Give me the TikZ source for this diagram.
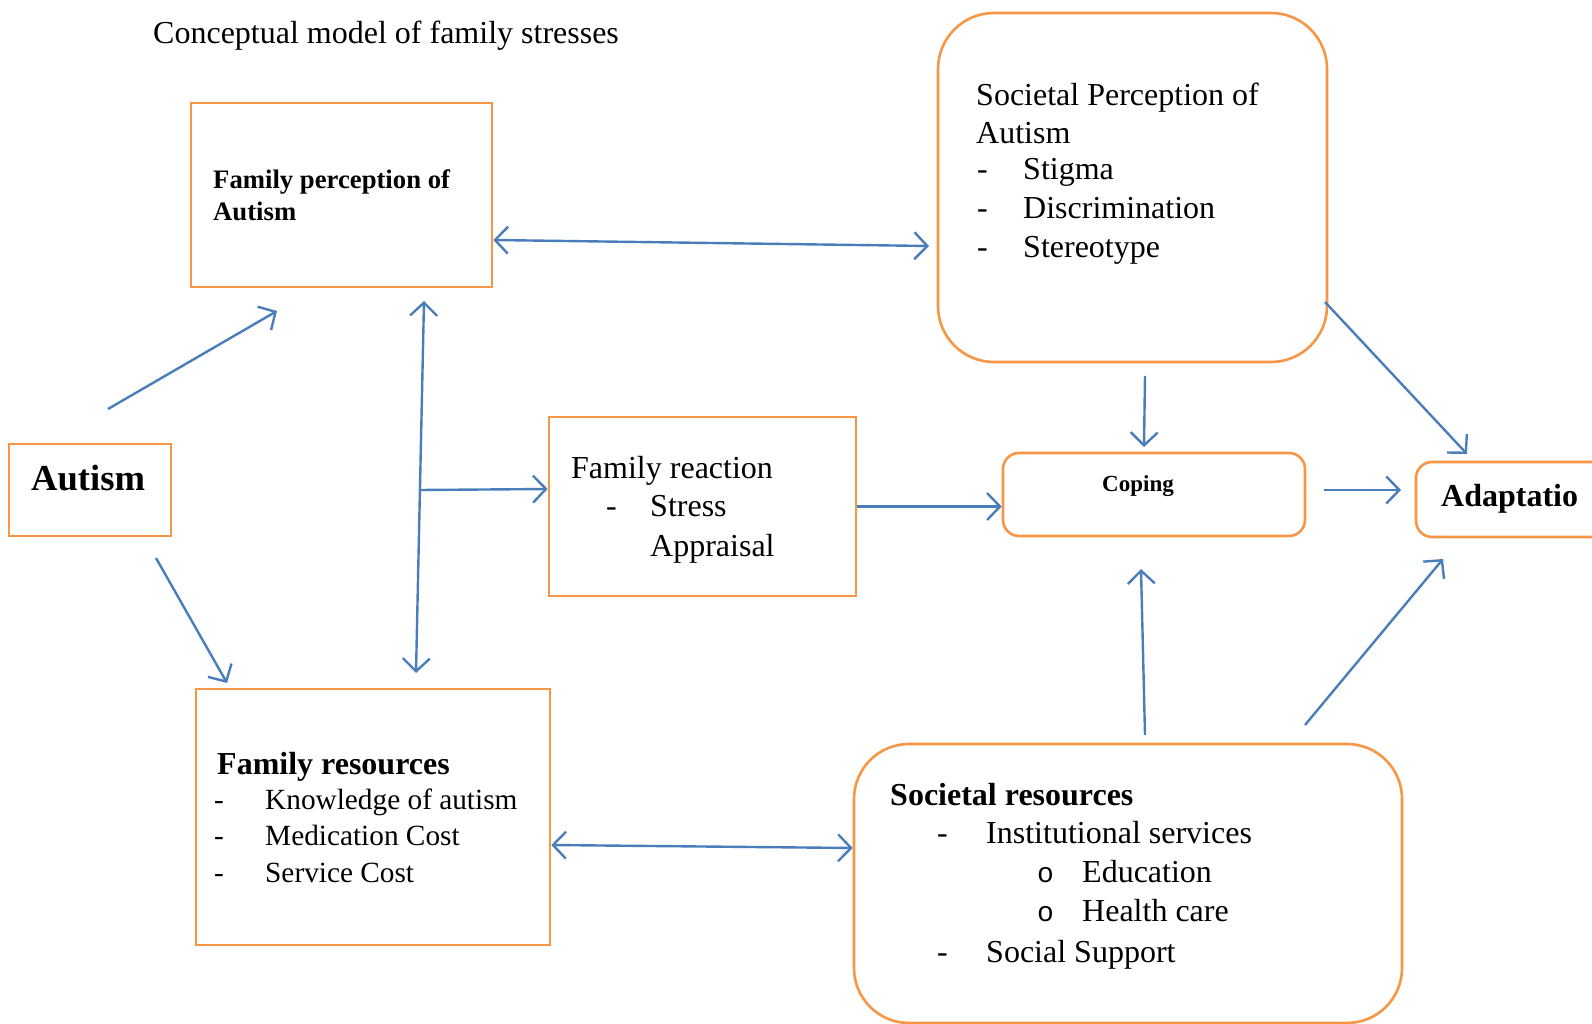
\documentclass[tikz,border=0pt]{standalone}
\usepackage{fontspec}
\setmainfont{Liberation Serif}
\newfontfamily\monofnt{Liberation Mono}
\usetikzlibrary{arrows.meta,calc}
\definecolor{boxorange}{HTML}{F79646}
\definecolor{arrowblue}{HTML}{4A7EBB}
\tikzset{
  box/.style={draw=boxorange,line width=2.6pt,rectangle,inner sep=0pt},
  rbox/.style={box,rounded corners=#1},
  txt/.style={anchor=base west,inner sep=0pt,font=\fontsize{32}{38}\selectfont},
  stxt/.style={anchor=base west,inner sep=0pt,font=\fontsize{29.3}{36}\selectfont},
  btxt/.style={txt,font=\fontsize{32}{38}\selectfont\bfseries},
  bul/.style={txt,font=\fontsize{28}{34}\selectfont\monofnt},
  tipb/.tip={Straight Barb[length=13pt,width=27pt,line width=2.4pt]},
  conn/.style={draw=arrowblue,line width=2.4pt,-tipb},
  biconn/.style={draw=arrowblue,line width=2.4pt,tipb-tipb}
}
\begin{document}
\begin{tikzpicture}[x=1pt,y=-1pt]
\useasboundingbox (0,0) rectangle (1592,1024);
\fill[white] (0,0) rectangle (1592,1024);

% boxes
\node[box,minimum width=301pt,minimum height=184pt] (famperc) at (341.5,195) {};
\node[rbox=56pt,minimum width=389pt,minimum height=349pt] (socperc) at (1132.5,187.5) {};
\node[box,minimum width=162pt,minimum height=92pt] (autism) at (90,490) {};
\node[box,minimum width=307pt,minimum height=179pt] (famreact) at (702.5,506.5) {};
\node[rbox=16pt,minimum width=302pt,minimum height=83pt] (coping) at (1154,494.5) {};
\node[rbox=16pt,minimum width=204pt,minimum height=75pt] (adapt) at (1518,499.5) {};
\node[box,minimum width=354pt,minimum height=256pt] (famres) at (373,817) {};
\node[rbox=55pt,minimum width=548pt,minimum height=279pt] (socres) at (1128,883.5) {};

% texts
\node[txt] (title) at (153,44) {Conceptual model of family stresses};

\node[txt,font=\fontsize{26.7}{32}\selectfont\bfseries] (fp1) at (213,189) {Family perception of};
\node[txt,font=\fontsize{26.7}{32}\selectfont\bfseries] (fp2) at (213,221) {Autism};

\node[txt,font=\fontsize{36.6}{44}\selectfont\bfseries] (aut) at (31,490) {Autism};

\node[txt] (fr1) at (571,478) {Family reaction};
\node[txt] (fr2d) at (606,516) {-};
\node[txt] (fr2) at (650,516) {Stress};
\node[txt] (fr3) at (650,556) {Appraisal};

\node[txt] (sp1) at (976,106) {Societal Perception of};
\node[txt] (sp2) at (976,144) {Autism};
\node[txt] (sp3d) at (977,180) {-};
\node[txt] (sp3) at (1023,180) {Stigma};
\node[txt] (sp4d) at (977,219) {-};
\node[txt] (sp4) at (1023,219) {Discrimination};
\node[txt] (sp5d) at (977,258) {-};
\node[txt] (sp5) at (1023,258) {Stereotype};

\node[txt,font=\fontsize{23}{28}\selectfont\bfseries] (cop) at (1102,491) {Coping};

\node[btxt] (ad) at (1441,506) {Adaptatio};

\node[btxt] (fs1) at (217,774) {Family resources};
\node[stxt] (fs2d) at (214,809) {-};
\node[stxt] (fs2) at (265,809) {Knowledge of autism};
\node[stxt] (fs3d) at (214,845) {-};
\node[stxt] (fs3) at (265,845) {Medication Cost};
\node[stxt] (fs4d) at (214,882) {-};
\node[stxt] (fs4) at (265,882) {Service Cost};

\node[btxt] (sr1) at (890,805) {Societal resources};
\node[txt] (sr2d) at (937,843) {-};
\node[txt] (sr2) at (986,843) {Institutional services};
\node[bul] (sr3b) at (1037,882) {o};
\node[txt] (sr3) at (1082,882) {Education};
\node[bul] (sr4b) at (1037,921) {o};
\node[txt] (sr4) at (1082,921) {Health care};
\node[txt] (sr5d) at (937,962) {-};
\node[txt] (sr5) at (986,962) {Social Support};

% connector end points
\coordinate (a1s) at (108,409);
\coordinate (a1e) at (277,311);
\coordinate (a2s) at (156,558);
\coordinate (a2e) at (227,683);
\coordinate (a3s) at (424,301);
\coordinate (a3e) at (416,673);
\coordinate (a4s) at (420,490);
\coordinate (a5e) at (929,246);
\coordinate (a7s) at (1145,376);
\coordinate (a7e) at (1144,447);
\coordinate (a8s) at (1325,302);
\coordinate (a8e) at (1467,454);
\coordinate (a9s) at (1324,490);
\coordinate (a9e) at (1401,490);
\coordinate (a10s) at (1145,735);
\coordinate (a10e) at (1141,569);
\coordinate (a11s) at (1305,725);
\coordinate (a11e) at (1443,559);

% connectors
\draw[conn] (a1s) -- (a1e);
\draw[conn] (a2s) -- (a2e);
\draw[biconn] (a3s) -- (a3e);
\draw[conn] (a4s) -- ([yshift=17.5pt]famreact.west);
\draw[biconn] ([yshift=-45pt]famperc.east) -- (a5e);
\draw[conn] (famreact.east) -- (coping.west |- famreact.east);
\draw[conn] (a7s) -- (a7e);
\draw[conn] (a8s) -- (a8e);
\draw[conn] (a9s) -- (a9e);
\draw[conn] (a10s) -- (a10e);
\draw[conn] (a11s) -- (a11e);
\draw[biconn] ([yshift=-28pt]famres.east) -- ([yshift=35.5pt]socres.west);
\end{tikzpicture}
\end{document}
